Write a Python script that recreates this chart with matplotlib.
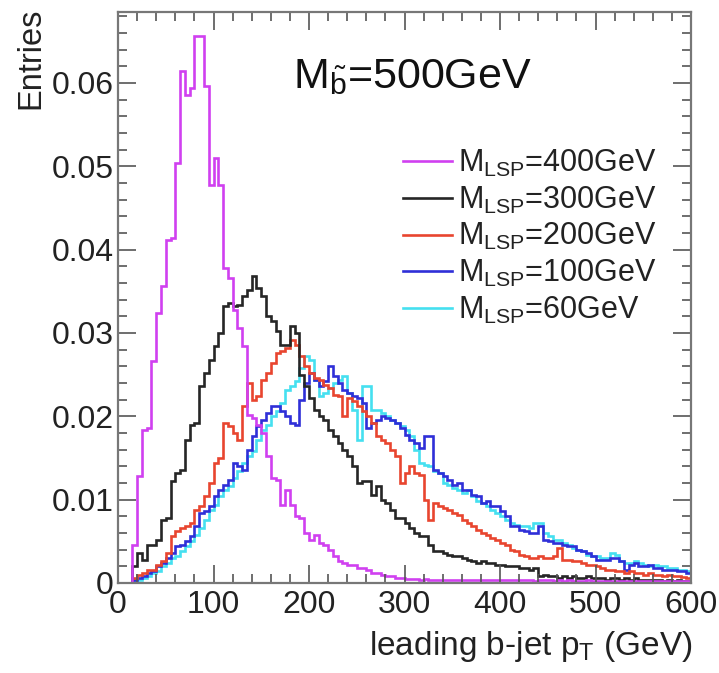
import numpy as np
import matplotlib
matplotlib.use("Agg")
import matplotlib.pyplot as plt
from matplotlib.lines import Line2D
from matplotlib.ticker import MultipleLocator

plt.rcParams['font.family'] = ['Liberation Sans', 'DejaVu Sans']
plt.rcParams['mathtext.fontset'] = 'custom'
plt.rcParams['mathtext.rm'] = 'Liberation Sans'
plt.rcParams['mathtext.it'] = 'Liberation Sans:italic'

# 5 GeV bins from 0 to 600
bin_edges = np.linspace(0, 600, 121)

m400 = [
    0, 0, 0, 0.0046, 0.0128, 0.0184, 0.0186, 0.0266, 0.0324, 0.0356,
    0.0412, 0.0414, 0.0504, 0.0614, 0.0586, 0.0594, 0.0656, 0.0656, 0.0596, 0.0478,
    0.051, 0.0478, 0.0378, 0.0366, 0.0328, 0.0306, 0.0284, 0.0202, 0.0198, 0.019,
    0.018, 0.0152, 0.0126, 0.0124, 0.0094, 0.0112, 0.0094, 0.008, 0.0078, 0.006,
    0.0052, 0.0058, 0.0048, 0.0046, 0.004, 0.0032, 0.0026, 0.0024, 0.0022, 0.0022,
    0.0018, 0.0018, 0.0016, 0.0012, 0.0012, 0.001, 0.0008, 0.0008, 0.0006, 0.0006,
    0.0005, 0.0005, 0.0005, 0.0004, 0.0005, 0.0004, 0.0004, 0.0004, 0.0004, 0.0004,
    0.0004, 0.0004, 0.0004, 0.0003, 0.0004, 0.0003, 0.0003, 0.0004, 0.0003, 0.0003,
    0.0003, 0.0003, 0.0003, 0.0003, 0.0003, 0.0003, 0.0003, 0.0002, 0.0003, 0.0003,
    0.0003, 0.0002, 0.0003, 0.0002, 0.0003, 0.0002, 0.0002, 0.0002, 0.0003, 0.0002,
    0.0002, 0.0002, 0.0002, 0.0002, 0.0002, 0.0002, 0.0002, 0.0002, 0.0002, 0.0002,
    0.0002, 0.0002, 0.0002, 0.0002, 0.0002, 0.0002, 0.0002, 0.0002, 0.0002, 0.0002,
]
m300 = [
    0, 0, 0, 0.002, 0.0036, 0.0028, 0.0046, 0.0046, 0.0052, 0.0076,
    0.0078, 0.0122, 0.0132, 0.0136, 0.0172, 0.019, 0.0192, 0.0236, 0.0252, 0.0268,
    0.0284, 0.030, 0.0332, 0.0336, 0.0332, 0.0334, 0.0344, 0.0352, 0.0368, 0.0354,
    0.0344, 0.032, 0.0314, 0.0302, 0.0286, 0.0286, 0.0308, 0.030, 0.025, 0.0236,
    0.0222, 0.0208, 0.020, 0.0196, 0.0184, 0.0176, 0.0168, 0.016, 0.0152, 0.014,
    0.012, 0.0122, 0.0122, 0.0106, 0.0116, 0.010, 0.0096, 0.0088, 0.0078, 0.0078,
    0.0072, 0.0066, 0.006, 0.0056, 0.0056, 0.0046, 0.0038, 0.0038, 0.0036, 0.0034,
    0.0032, 0.0032, 0.003, 0.0028, 0.0026, 0.0024, 0.0026, 0.0024, 0.0024, 0.0022,
    0.0022, 0.002, 0.002, 0.002, 0.0018, 0.0018, 0.0016, 0.0018, 0.0008, 0.001,
    0.0008, 0.0008, 0.0006, 0.0008, 0.0006, 0.0008, 0.0006, 0.0006, 0.0008, 0.0006,
    0.0006, 0.0006, 0.0004, 0.0006, 0.0006, 0.0004, 0.0006, 0.0004, 0.0006, 0.0004,
    0.0004, 0.0004, 0.0004, 0.0004, 0.0002, 0.0004, 0.0002, 0.0004, 0.0002, 0.0002,
]
m200 = [
    0, 0, 0, 0.0006, 0.001, 0.0012, 0.0016, 0.0016, 0.0022, 0.0026,
    0.0036, 0.0056, 0.0062, 0.0066, 0.0068, 0.0072, 0.0088, 0.0092, 0.0104, 0.012,
    0.0144, 0.015, 0.0192, 0.0188, 0.018, 0.0172, 0.0212, 0.024, 0.022, 0.0224,
    0.0244, 0.0252, 0.0264, 0.0276, 0.0278, 0.0282, 0.0292, 0.0286, 0.0272, 0.026,
    0.0252, 0.0246, 0.0244, 0.0238, 0.0234, 0.0226, 0.0224, 0.020, 0.0222, 0.0218,
    0.0212, 0.0206, 0.020, 0.0192, 0.0176, 0.0172, 0.0168, 0.016, 0.0152, 0.012,
    0.0132, 0.014, 0.0132, 0.013, 0.010, 0.0076, 0.0096, 0.0092, 0.009, 0.0088,
    0.0084, 0.0082, 0.0076, 0.0072, 0.0068, 0.0064, 0.006, 0.0058, 0.0054, 0.0052,
    0.0048, 0.0046, 0.004, 0.0038, 0.0034, 0.0032, 0.003, 0.003, 0.0032, 0.003,
    0.003, 0.0032, 0.0042, 0.0028, 0.0028, 0.0026, 0.0026, 0.0024, 0.0022, 0.0022,
    0.002, 0.0018, 0.0016, 0.0016, 0.0014, 0.0014, 0.0012, 0.0014, 0.0012, 0.0012,
    0.001, 0.0012, 0.001, 0.0009, 0.0008, 0.001, 0.0008, 0.0008, 0.0007, 0.0006,
]
m100 = [
    0, 0, 0, 0.0004, 0.0006, 0.0008, 0.0012, 0.0014, 0.002, 0.0024,
    0.003, 0.0036, 0.0044, 0.0046, 0.005, 0.0056, 0.0068, 0.0084, 0.0086, 0.0092,
    0.0104, 0.0112, 0.0118, 0.0124, 0.0144, 0.014, 0.0136, 0.016, 0.0176, 0.0188,
    0.0196, 0.0204, 0.0212, 0.0212, 0.0206, 0.020, 0.0192, 0.019, 0.022, 0.024,
    0.0252, 0.0244, 0.0236, 0.0242, 0.026, 0.0248, 0.024, 0.0232, 0.0228, 0.0224,
    0.0222, 0.0216, 0.0186, 0.0192, 0.0196, 0.020, 0.0198, 0.0196, 0.0192, 0.0186,
    0.0178, 0.0172, 0.0168, 0.0162, 0.0176, 0.0176, 0.0136, 0.0132, 0.0128, 0.0124,
    0.0118, 0.012, 0.0112, 0.0112, 0.0106, 0.0104, 0.0096, 0.0098, 0.0092, 0.0092,
    0.0086, 0.008, 0.0068, 0.0068, 0.0064, 0.0062, 0.006, 0.006, 0.0068, 0.0052,
    0.005, 0.0048, 0.0048, 0.0046, 0.0044, 0.0044, 0.004, 0.0038, 0.0036, 0.0032,
    0.0028, 0.0028, 0.0028, 0.003, 0.003, 0.0026, 0.0016, 0.0022, 0.0024, 0.002,
    0.002, 0.0022, 0.0018, 0.0018, 0.0016, 0.0016, 0.0016, 0.0014, 0.0014, 0.0012,
]
m60 = [
    0, 0, 0, 0.0002, 0.0004, 0.0006, 0.0008, 0.0012, 0.0014, 0.002,
    0.0024, 0.003, 0.0032, 0.0038, 0.0044, 0.005, 0.0058, 0.0066, 0.0076, 0.0088,
    0.0094, 0.0104, 0.0112, 0.0116, 0.0126, 0.0134, 0.0144, 0.0152, 0.0158, 0.0172,
    0.0184, 0.019, 0.020, 0.0206, 0.0216, 0.0232, 0.0236, 0.0242, 0.0258, 0.0272,
    0.0268, 0.0244, 0.0224, 0.0228, 0.0234, 0.024, 0.0244, 0.0248, 0.0228, 0.0208,
    0.0172, 0.0236, 0.0236, 0.0208, 0.0208, 0.0204, 0.020, 0.0196, 0.0192, 0.0188,
    0.0184, 0.0176, 0.016, 0.0144, 0.0142, 0.014, 0.0134, 0.0132, 0.012, 0.0118,
    0.0114, 0.0112, 0.0108, 0.0112, 0.0104, 0.0098, 0.0096, 0.0092, 0.0088, 0.0084,
    0.008, 0.0076, 0.0072, 0.007, 0.0068, 0.0068, 0.0066, 0.0072, 0.0072, 0.006,
    0.0056, 0.0052, 0.0052, 0.0048, 0.0046, 0.0042, 0.004, 0.0038, 0.0034, 0.0032,
    0.0032, 0.003, 0.003, 0.0036, 0.0034, 0.0026, 0.0024, 0.0024, 0.0026, 0.0024,
    0.0022, 0.002, 0.0022, 0.002, 0.002, 0.0018, 0.0018, 0.0016, 0.0016, 0.0014,
]

series = [m400, m300, m200, m100, m60]
labels = [r'M$_{\rm LSP}$=400GeV', r'M$_{\rm LSP}$=300GeV', r'M$_{\rm LSP}$=200GeV',
          r'M$_{\rm LSP}$=100GeV', r'M$_{\rm LSP}$=60GeV']
colors = ['#d040f0', '#262626', '#e8452f', '#2f2fd8', '#45e0f0']

yticks = [0, 0.01, 0.02, 0.03, 0.04, 0.05, 0.06]
ytick_labels = ['0', '0.01', '0.02', '0.03', '0.04', '0.05', '0.06']
xticks = [0, 100, 200, 300, 400, 500, 600]

fig = plt.figure(figsize=(7.19, 6.73), dpi=100)
ax = fig.add_axes([118/719, 1 - 583/673, (691 - 118)/719, (583 - 12)/673])

# draw the lightest-mass sample first so the 400 GeV one sits on top
for vals, col in reversed(list(zip(series, colors))):
    ax.stairs(vals, bin_edges, color=col, linewidth=1.9)

ax.set_xlim(0, 600)
ax.set_ylim(0, 0.0685)
ax.set_xticks(xticks)
ax.set_yticks(yticks)
ax.set_yticklabels(ytick_labels)
ax.xaxis.set_minor_locator(MultipleLocator(20))
ax.yaxis.set_minor_locator(MultipleLocator(0.002))
ax.tick_params(which='both', direction='in', top=True, right=True,
               color='#555555', width=1.2, labelsize=23, labelcolor='#222222')
ax.tick_params(which='major', length=13)
ax.tick_params(which='minor', length=6.5)
ax.tick_params(axis='y', pad=3)
ax.tick_params(axis='x', pad=5)
for s in ax.spines.values():
    s.set_color('#777777')
    s.set_linewidth(1.6)

fig.text(31/719, 1 - 8/673, 'Entries', rotation=90, ha='center', va='top',
         fontsize=23.5, color='#222222')
fig.text(692/719, 1 - 655/673, r'leading b-jet p$_{\rm T}$ (GeV)', ha='right',
         va='baseline', fontsize=24, color='#222222')
fig.text(293/719, 1 - 88/673, r'M$_{\tilde{\rm b}}$=500GeV', ha='left',
         va='baseline', fontsize=31, color='#111111')

handles = [Line2D([], [], color=c, linewidth=1.9) for c in colors]
ax.legend(handles, labels, loc='upper left', bbox_to_anchor=(403/719, 1 - 148/673),
          bbox_transform=fig.transFigure, frameon=False, fontsize=22,
          handlelength=1.6, handletextpad=0.2, labelspacing=0.18,
          borderpad=0, borderaxespad=0, labelcolor='#222222')

fig.savefig('out.png', dpi=100)
